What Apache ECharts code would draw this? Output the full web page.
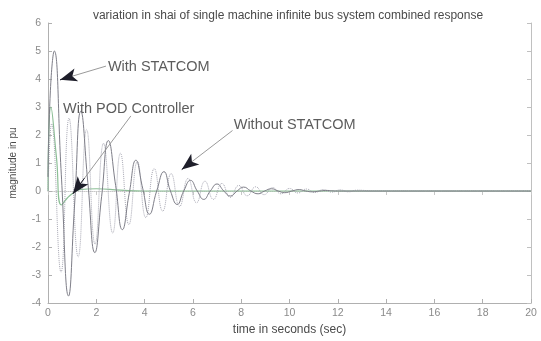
<!DOCTYPE html>
<html>
<head>
<meta charset="utf-8">
<script src="https://cdn.jsdelivr.net/npm/echarts@6/dist/echarts.min.js"></script>
<style>
  html, body { margin: 0; padding: 0; background: #fff; }
  #chart { width: 541px; height: 341px; }
</style>
</head>
<body>
<div id="chart"></div>
<script>
// Rotor-angle (shai) oscillation, single machine infinite bus system
const titleText = 'variation in shai of single machine infinite bus system combined response';
const xName = 'time in seconds (sec)';
const yName = 'magnitude in pu';
const xTicks = [0, 2, 4, 6, 8, 10, 12, 14, 16, 18, 20];
const yTicks = [-4, -3, -2, -1, 0, 1, 2, 3, 4, 5, 6];

// With STATCOM (solid)
const statTime = [0, 0.1, 0.26, 0.55, 0.85, 1.1, 1.36, 1.65, 1.94, 2.22, 2.5, 2.8, 3.08, 3.36, 3.64, 3.92, 4.2, 4.5, 4.8, 5.07, 5.35, 5.62, 5.9, 6.18, 6.45, 6.72, 7.0, 7.28, 7.55, 7.83, 8.1, 8.4, 8.7, 8.97, 9.25, 9.53, 9.8, 10.1, 10.4, 10.67, 10.95, 11.25, 11.5, 12, 20];
const statVal  = [0.5, 3.6, 5.0, 0.6, -3.75, -0.5, 2.85, 0.3, -2.2, -0.2, 1.8, 0.2, -1.38, -0.1, 1.1, 0.1, -0.83, 0, 0.69, 0, -0.48, 0, 0.38, 0, -0.3, 0, 0.25, 0, -0.18, 0, 0.14, 0, -0.1, 0, 0.08, 0, -0.06, 0, 0.05, 0, -0.03, 0, 0.02, 0, 0];

// Without STATCOM (dotted)
const noStatTime = [0, 0.15, 0.54, 0.87, 1.25, 1.6, 1.95, 2.3, 2.68, 3.0, 3.35, 3.7, 4.05, 4.4, 4.75, 5.1, 5.45, 5.8, 6.15, 6.5, 6.85, 7.2, 7.55, 7.9, 8.25, 8.6, 8.95, 9.3, 9.65, 10.0, 10.35, 10.7, 11.05, 11.4, 11.75, 12.1, 12.45, 12.8, 13.5, 20];
const noStatVal  = [0, 2.4, -2.9, 2.6, -2.35, 2.2, -1.9, 1.7, -1.5, 1.35, -1.2, 1.05, -0.95, 0.8, -0.72, 0.62, -0.55, 0.45, -0.42, 0.35, -0.3, 0.27, -0.23, 0.2, -0.17, 0.15, -0.13, 0.12, -0.1, 0.09, -0.07, 0.07, -0.05, 0.05, -0.04, 0.04, -0.03, 0.03, 0, 0];

// With POD controller
const podTime = [0, 0.12, 0.35, 0.55, 0.8, 1.0, 1.3, 2.0, 3.0, 4.0, 20];
const podVal  = [0, 3.0, 1.2, -0.5, -0.25, -0.1, 0.05, 0.08, 0.03, 0, 0];

// Annotation texts with their anchor points, and the arrows pointing at the curves
const noteText = ['With STATCOM', 'With POD Controller', 'Without STATCOM'];
const noteAt   = [[2.48, 4.42], [0.62, 2.92], [7.69, 2.37]];
const arrowTail = [[2.4, 4.46], [3.43, 2.68], [7.64, 2.16]];
const arrowHead = [[0.5, 3.97], [1.03, -0.1], [5.54, 0.77]];

const zip = (a, b) => a.map((t, i) => [t, b[i]]);

const chart = echarts.init(document.getElementById('chart'), null, { renderer: 'canvas' });

const tickFont = { fontFamily: 'Liberation Sans', fontSize: 10.5, color: '#8a8a8a' };

// Arrow shafts (grey) plus dark heads near the tip
const arrowLines = [];
arrowTail.forEach((tail, i) => {
  const head = arrowHead[i];
  arrowLines.push([
    { coord: tail, symbol: 'none', lineStyle: { color: '#9a9a9a', width: 1, type: 'solid' } },
    { coord: head, symbol: 'none' }
  ]);
  const f = 0.8;
  const near = [tail[0] + (head[0] - tail[0]) * f, tail[1] + (head[1] - tail[1]) * f];
  arrowLines.push([
    { coord: near, symbol: 'none', lineStyle: { color: '#1e1e2a', width: 1, type: 'solid' } },
    { coord: head, symbol: 'arrow', symbolSize: [10, 17] }
  ]);
});

chart.setOption({
  animation: false,
  backgroundColor: '#fff',
  title: {
    text: titleText,
    left: 283, top: 5, textAlign: 'center',
    textStyle: { fontFamily: 'Liberation Sans', fontSize: 12, fontWeight: 'normal', color: '#4a4a4a' }
  },
  grid: { left: 47, right: 10, top: 23, bottom: 31, show: false },
  xAxis: [{
    type: 'value', min: 0, max: 20, interval: 2, position: 'bottom',
    name: xName, nameLocation: 'middle', nameGap: 21,
    nameTextStyle: { fontFamily: 'Liberation Sans', fontSize: 12, color: '#4a4a4a' },
    axisLine: { onZero: false, lineStyle: { color: '#b0b0b0', width: 1 } },
    axisTick: { inside: true, length: 4, lineStyle: { color: '#b0b0b0' } },
    axisLabel: Object.assign({ margin: 5 }, tickFont),
    splitLine: { show: false }
  }, {
    type: 'value', min: 0, max: 20, interval: 2, position: 'top',
    axisLine: { show: true, lineStyle: { color: '#c8c8c8', width: 1, type: 'dotted' } },
    axisTick: { inside: true, length: 4, lineStyle: { color: '#c8c8c8' } },
    axisLabel: { show: false }, splitLine: { show: false }
  }],
  yAxis: [{
    type: 'value', min: -4, max: 6, interval: 1, position: 'left',
    name: yName, nameLocation: 'middle', nameGap: 30,
    nameTextStyle: { fontFamily: 'Liberation Sans', fontSize: 10, color: '#4a4a4a' },
    axisLine: { show: true, onZero: false, lineStyle: { color: '#b0b0b0', width: 1 } },
    axisTick: { show: true, inside: true, length: 4, lineStyle: { color: '#b0b0b0' } },
    axisLabel: Object.assign({ margin: 7 }, tickFont),
    splitLine: { show: false }
  }, {
    type: 'value', min: -4, max: 6, interval: 1, position: 'right',
    axisLine: { show: true, onZero: false, lineStyle: { color: '#c0c0c0', width: 1 } },
    axisTick: { show: true, inside: true, length: 4, lineStyle: { color: '#c0c0c0' } },
    axisLabel: { show: false }, splitLine: { show: false }
  }],
  series: [
    {
      name: 'With POD Controller', type: 'line', data: zip(podTime, podVal),
      smooth: 0.5, showSymbol: false, symbol: 'none',
      lineStyle: { color: '#8cbf96', width: 1.2 }, z: 2
    },
    {
      name: 'Without STATCOM', type: 'line', data: zip(noStatTime, noStatVal),
      smooth: 0.5, showSymbol: false, symbol: 'none',
      lineStyle: { color: '#a8a8b4', width: 1, type: 'dotted' }, z: 3
    },
    {
      name: 'With STATCOM', type: 'line', data: zip(statTime, statVal),
      smooth: 0.5, showSymbol: false, symbol: 'none',
      lineStyle: { color: '#7e7e88', width: 1 }, z: 4,
      markLine: { silent: true, symbol: ['none', 'arrow'], data: arrowLines, label: { show: false },
        lineStyle: { type: 'solid' } }
    },
    {
      name: 'notes', type: 'scatter', symbolSize: 0, silent: true, z: 6,
      data: noteAt.map((p, i) => ({ value: p, label: { formatter: noteText[i] } })),
      label: { show: true, position: 'right', distance: 0,
        fontFamily: 'Liberation Sans', fontSize: 14.5, color: '#333' }
    }
  ]
});
</script>
</body>
</html>
